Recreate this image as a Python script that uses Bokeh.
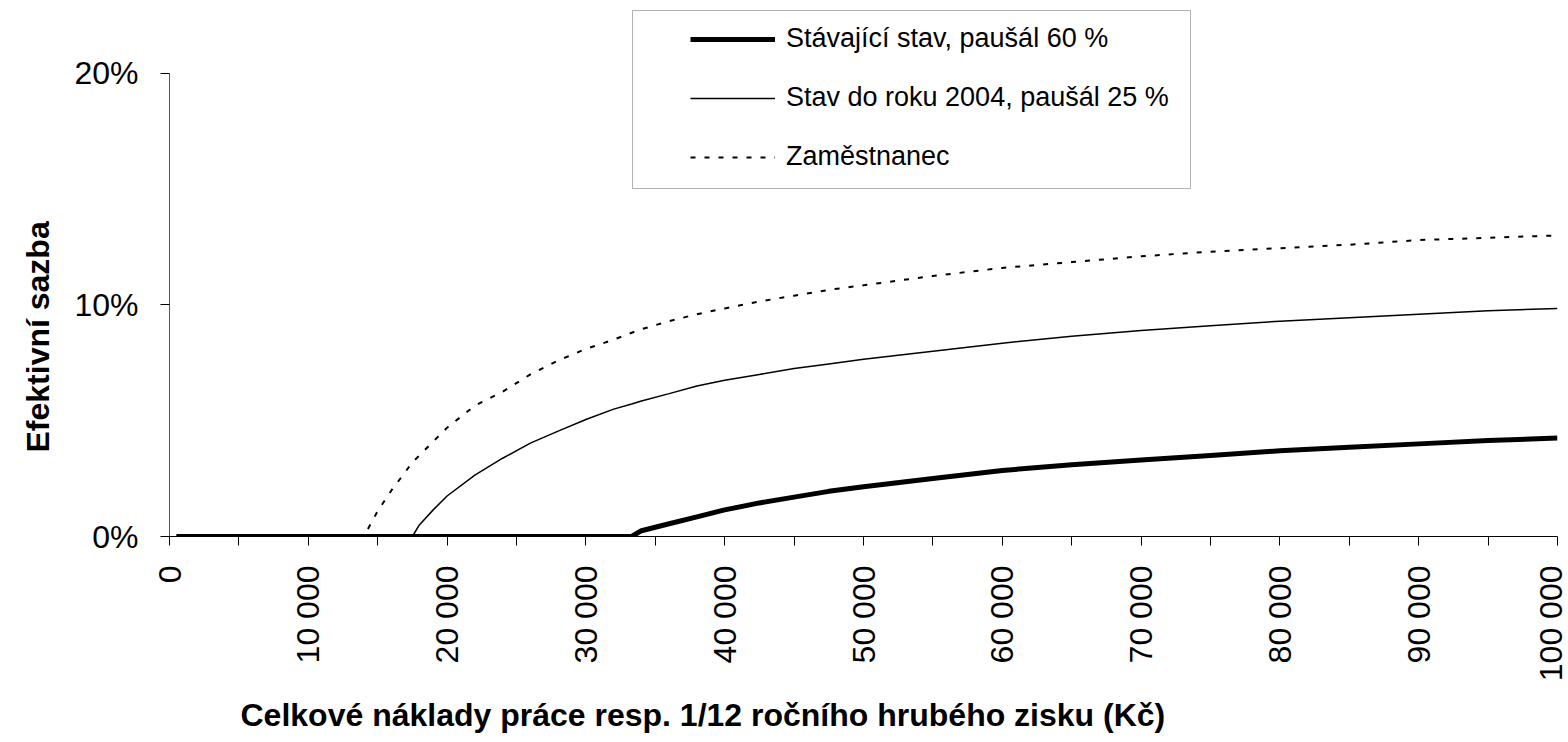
import math
from bokeh.plotting import figure
from bokeh.models import (Range1d, FixedTicker, NumeralTickFormatter, CustomJSTickFormatter,
                          Legend, LegendItem, Title, BoxAnnotation)
from bokeh.embed import file_html
from bokeh.resources import INLINE

# ---- data (effective rate in %) ----
naklady = [500, 14000, 15000, 16000, 17000, 17500, 18000, 19000, 20000, 22000, 24000, 26000,
           28000, 30000, 32000, 33300, 34000, 36000, 38000, 40000, 42500, 45000, 47500, 50000,
           55000, 60000, 65000, 70000, 75000, 80000, 85000, 90000, 95000, 100000]
stavajici = [0, 0, 0, 0, 0, 0, 0, 0, 0, 0, 0, 0,
             0, 0, 0, 0, 0.25, 0.55, 0.85, 1.15, 1.45, 1.7, 1.95, 2.15,
             2.5, 2.85, 3.1, 3.3, 3.5, 3.7, 3.85, 4.0, 4.15, 4.25]
stav2004 = [0, 0, 0, 0, 0, 0, 0.5, 1.15, 1.75, 2.65, 3.38, 4.03,
            4.55, 5.05, 5.5, 5.72, 5.85, 6.17, 6.5, 6.75, 7.0, 7.25, 7.45, 7.65,
            8.0, 8.35, 8.65, 8.9, 9.1, 9.3, 9.45, 9.6, 9.75, 9.85]
zamestnanec = [0, 0, 1.1, 2.0, 2.8, 3.2, 3.5, 4.1, 4.7, 5.65, 6.25, 7.0,
               7.6, 8.1, 8.5, 8.8, 8.95, 9.3, 9.6, 9.85, 10.15, 10.4, 10.65, 10.85,
               11.25, 11.6, 11.85, 12.1, 12.3, 12.45, 12.6, 12.8, 12.9, 13.0]

series_names = ["Stávající stav, paušál 60 %", "Stav do roku 2004, paušál 25 %", "Zaměstnanec"]
x_major = [0, 10000, 20000, 30000, 40000, 50000, 60000, 70000, 80000, 90000, 100000]
x_minor = [5000, 15000, 25000, 35000, 45000, 55000, 65000, 75000, 85000, 95000]
y_ticks = [0, 0.1, 0.2]
x_title = "Celkové náklady práce resp. 1/12 ročního hrubého zisku (Kč)"
y_title = "Efektivní sazba"

FONT = "Liberation Sans"

# layout (pixels)
W, H = 1568, 742
FRAME_L, FRAME_R, FRAME_B, AXIS_TOP = 169, 1557, 537, 73
y_end = 0.2 * FRAME_B / (FRAME_B - AXIS_TOP)   # frame reaches the top so the legend fits

p = figure(width=W, height=H, output_backend="svg", toolbar_location=None,
           x_range=Range1d(0, 100000), y_range=Range1d(0, y_end),
           min_border_left=FRAME_L, min_border_right=W - FRAME_R,
           min_border_top=0, min_border_bottom=H - FRAME_B)
p.outline_line_color = None
p.xgrid.visible = False
p.ygrid.visible = False
p.background_fill_color = "white"
p.border_fill_color = "white"

# x axis
xa = p.xaxis[0]
xa.ticker = FixedTicker(ticks=x_major, minor_ticks=x_minor)
xa.formatter = CustomJSTickFormatter(code="return String(Math.round(tick)).replace(/\\B(?=(\\d{3})+(?!\\d))/g, ' ');")
xa.major_label_orientation = math.pi / 2
xa.major_tick_in = 0
xa.major_tick_out = 9
xa.minor_tick_in = 0
xa.minor_tick_out = 9
xa.minor_tick_line_color = "black"
xa.major_tick_line_color = "black"
xa.axis_line_color = "black"
xa.major_label_standoff = 20
xa.major_label_text_font = FONT
xa.major_label_text_font_size = "32px"
xa.major_label_text_color = "black"

# y axis
ya = p.yaxis[0]
ya.ticker = FixedTicker(ticks=y_ticks)
ya.formatter = NumeralTickFormatter(format="0%")
ya.bounds = (0, 0.2)
ya.major_tick_in = 0
ya.major_tick_out = 9
ya.minor_tick_line_color = None
ya.axis_line_color = "#555555"
ya.major_tick_line_color = "black"
ya.major_label_standoff = 22
ya.major_label_text_font = FONT
ya.major_label_text_font_size = "32px"
ya.major_label_text_color = "black"

# series
r1 = p.line(naklady, [v / 100 for v in stavajici], line_width=5, color="black")
r2 = p.line(naklady, [v / 100 for v in stav2004], line_width=1.5, color="black")
r3 = p.line(naklady, [v / 100 for v in zamestnanec], line_width=2, color="black",
            line_dash="5 9")

legend = Legend(items=[LegendItem(label=series_names[0], renderers=[r1]),
                       LegendItem(label=series_names[1], renderers=[r2]),
                       LegendItem(label=series_names[2], renderers=[r3])],
                location=(521, 364), orientation="vertical",
                glyph_width=85, glyph_height=30, label_height=30, label_standoff=11,
                spacing=28, padding=0, margin=0,
                border_line_color=None, background_fill_alpha=0,
                label_text_font=FONT, label_text_font_size="27px", label_text_color="black")
p.add_layout(legend, "center")

box = BoxAnnotation(left=463, right=1021, bottom=348, top=526,
                    left_units="screen", right_units="screen",
                    top_units="screen", bottom_units="screen",
                    fill_alpha=0, line_color="black", line_width=1)
p.add_layout(box)

p.add_layout(Title(text=y_title, align="left", offset=84, standoff=30, vertical_align="middle",
                   text_font=FONT, text_font_style="bold", text_font_size="32px",
                   text_color="black"), "left")
p.add_layout(Title(text=x_title, align="left", offset=71, standoff=20,
                   text_font=FONT, text_font_style="bold", text_font_size="32px",
                   text_color="black"), "below")

open("out.html", "w").write(file_html(p, INLINE))
